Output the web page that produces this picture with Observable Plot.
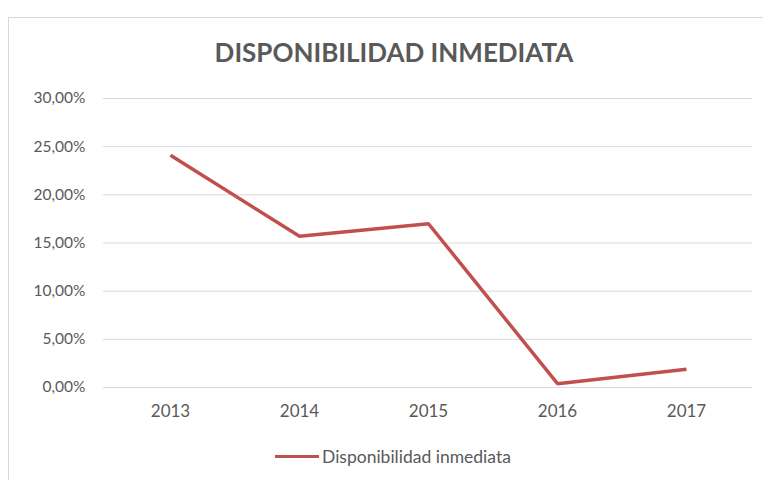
<!DOCTYPE html>
<html>
<head>
<meta charset="utf-8">
<script src="https://cdn.jsdelivr.net/npm/d3@7"></script>
<script src="https://cdn.jsdelivr.net/npm/@observablehq/plot@0.6"></script>
<style>
  body { margin: 0; background: #fff; font-family: Lato, "Open Sans", sans-serif; }
  #wrap { position: relative; width: 763px; height: 480px; overflow: hidden; }
  #frame { position: absolute; left: 8px; top: 17px; width: 800px; height: 500px; border: 1px solid #d9d9d9; box-sizing: border-box; }
  #title { position: absolute; left: 0; width: 788px; top: 36px; text-align: center; font-size: 26px; font-weight: bold; color: #595959; }
  #chart { position: absolute; left: 0; top: 80px; }
  #legend { position: absolute; left: 275px; top: 446px; font-size: 17.5px; color: #595959; display: flex; align-items: center; }
  #legend span.sw { display: inline-block; width: 44px; height: 3.5px; background: #C0504D; margin-right: 3px; }
</style>
</head>
<body>
<div id="wrap">
  <div id="frame"></div>
  <div id="title">DISPONIBILIDAD INMEDIATA</div>
  <div id="chart"></div>
  <div id="legend"><span class="sw"></span><span>Disponibilidad inmediata</span></div>
</div>
<script>
const years = ["2013", "2014", "2015", "2016", "2017"];
const values = [24.1, 15.7, 17.0, 0.4, 1.9];
const yTicks = [0, 5, 10, 15, 20, 25, 30];
const seriesName = "Disponibilidad inmediata";

const data = years.map((y, i) => ({year: y, value: values[i]}));
const fmt = v => d3.format(".2f")(v).replace(".", ",") + "%";

const plot = Plot.plot({
  width: 763,
  height: 350,
  marginLeft: 103,
  marginRight: 11,
  marginTop: 18,
  marginBottom: 43,
  style: {fontFamily: "Lato, 'Open Sans', sans-serif", fontSize: "15px", color: "#595959", background: "transparent"},
  x: {type: "point", domain: years, padding: 0.5, label: null},
  y: {domain: [0, 30], label: null},
  marks: [
    Plot.gridY(yTicks, {stroke: "#d9d9d9", strokeOpacity: 1, strokeWidth: 1}),
    Plot.axisY(yTicks, {tickSize: 0, tickPadding: 18, tickFormat: fmt, fill: "#595959", fontSize: 15.5}),
    Plot.axisX(years, {tickSize: 0, tickPadding: 17, fill: "#595959", fontSize: 17}),
    Plot.line(data, {x: "year", y: "value", stroke: "#C0504D", strokeWidth: 3.5, strokeLinejoin: "miter", strokeLinecap: "butt"})
  ]
});
document.getElementById("chart").appendChild(plot);
</script>
</body>
</html>
